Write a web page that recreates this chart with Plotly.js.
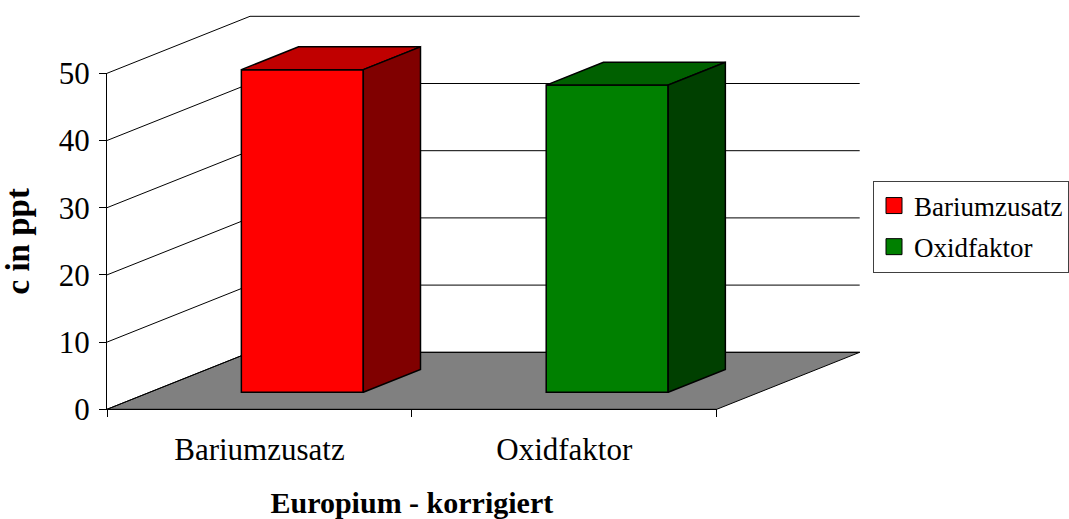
<!DOCTYPE html>
<html>
<head>
<meta charset="utf-8">
<script src="https://cdn.plot.ly/plotly-3.0.1.min.js"></script>
<style>
  html, body { margin: 0; padding: 0; background: #ffffff; }
  #chart { width: 1069px; height: 519px; }
</style>
</head>
<body>
<div id="chart"></div>
<script>
// --- data ---
const categories = ['Bariumzusatz', 'Oxidfaktor'];
const seriesNames = ['Bariumzusatz', 'Oxidfaktor'];
const values = [48.0, 45.7];
const yTicks = [0, 10, 20, 30, 40, 50];

// face colours per bar: front, top, side
const frontColors = ['#ff0000', '#008000'];
const topColors = ['#c00000', '#006000'];
const sideColors = ['#800000', '#004000'];

const FONT = 'Liberation Serif, Times New Roman, serif';
const W = 1069, H = 519;

// front plane of the 3d box, in pixels
const FRONT = { left: 107, right: 716.7, bottom: 409.3, top: 73.3 };
const DEPTH_PX = { x: 143, y: 57 };
const Y_MAX = 50;

const pxPerCat = (FRONT.right - FRONT.left) / categories.length;
const pxPerVal = (FRONT.bottom - FRONT.top) / Y_MAX;
const DX = DEPTH_PX.x / pxPerCat;
const DY = DEPTH_PX.y / pxPerVal;
const xRange = [-FRONT.left / pxPerCat, (W - FRONT.left) / pxPerCat];
const yRange = [-(H - FRONT.bottom) / pxPerVal, FRONT.bottom / pxPerVal];

// bar takes the middle 40% of its slot, in width and in depth
const BAR_X0 = 0.3, BAR_X1 = 0.7;
const BAR_D0 = 0.3, BAR_D1 = 0.7;

function proj(u, v, d) {
    return [u + d * DX, v + d * DY];
}

function polygon(points, color, axes) {
    return {
        x: points.map(p => p[0]).concat([points[0][0]]),
        y: points.map(p => p[1]).concat([points[0][1]]),
        type: 'scatter',
        mode: 'lines',
        fill: 'toself',
        fillcolor: color,
        line: { color: '#000000', width: 1.5 },
        hoverinfo: 'skip',
        showlegend: false,
        xaxis: axes[0],
        yaxis: axes[1]
    };
}

const n = categories.length;
const traces = [];

// floor
traces.push(Object.assign(polygon([proj(0, 0, 0), proj(n, 0, 0), proj(n, 0, 1), proj(0, 0, 1)], '#808080', ['x', 'y']),
    { line: { color: '#000000', width: 1 } }));

// back wall gridlines and left wall lines
const gx = [], gy = [], lx = [], ly = [];
yTicks.forEach(v => {
    const a = proj(0, v, 1), b = proj(n, v, 1), f = proj(0, v, 0);
    gx.push(a[0], b[0], null); gy.push(a[1], b[1], null);
    lx.push(f[0], a[0], null); ly.push(f[1], a[1], null);
});
traces.push({ x: gx, y: gy, type: 'scatter', mode: 'lines', line: { color: '#000000', width: 1 },
    hoverinfo: 'skip', showlegend: false });
traces.push({ x: lx, y: ly, type: 'scatter', mode: 'lines', line: { color: '#000000', width: 1 },
    hoverinfo: 'skip', showlegend: false });

// bars: front face as bar trace, top and side as polygons (overlay subplot so they sit above the floor)
values.forEach((v, i) => {
    const base = BAR_D0 * DY;
    traces.push({
        x: [i + (BAR_X0 + BAR_X1) / 2 + BAR_D0 * DX],
        y: [v],
        base: [base],
        width: [BAR_X1 - BAR_X0],
        type: 'bar',
        marker: { color: frontColors[i], line: { color: '#000000', width: 1.5 } },
        name: seriesNames[i],
        hoverinfo: 'skip',
        showlegend: false,
        xaxis: 'x3',
        yaxis: 'y3'
    });
    const dd = BAR_D1 - BAR_D0;
    const fl = proj(i + BAR_X0, v, BAR_D0), fr = proj(i + BAR_X1, v, BAR_D0);
    const frb = proj(i + BAR_X1, 0, BAR_D0);
    const top = [fl, fr, [fr[0] + dd * DX, fr[1] + dd * DY], [fl[0] + dd * DX, fl[1] + dd * DY]];
    const side = [frb, fr, [fr[0] + dd * DX, fr[1] + dd * DY], [frb[0] + dd * DX, frb[1] + dd * DY]];
    traces.push(polygon(top, topColors[i], ['x3', 'y3']));
    traces.push(polygon(side, sideColors[i], ['x3', 'y3']));
});

// legend keys on the front axes subplot
seriesNames.forEach((name, i) => {
    traces.push({
        x: [null], y: [null],
        type: 'scatter', mode: 'markers',
        marker: { symbol: 'square', size: 16, color: frontColors[i], line: { color: '#000000', width: 1 } },
        name: name,
        legendgroup: 'g' + i,
        xaxis: 'x2', yaxis: 'y2'
    });
});

const hidden = { visible: false, showgrid: false, zeroline: false, fixedrange: true };

const layout = {
    width: W,
    height: H,
    margin: { t: 0, b: 0, l: 0, r: 0, autoexpand: false },
    paper_bgcolor: '#ffffff',
    plot_bgcolor: 'rgba(0,0,0,0)',
    barmode: 'overlay',
    font: { family: FONT, color: '#000000', size: 30 },
    xaxis: Object.assign({ range: xRange, domain: [0, 1] }, hidden),
    yaxis: Object.assign({ range: yRange, domain: [0, 1] }, hidden),
    xaxis3: Object.assign({ range: xRange, overlaying: 'x', anchor: 'y3' }, hidden),
    yaxis3: Object.assign({ range: yRange, overlaying: 'y', anchor: 'x3' }, hidden),
    xaxis2: {
        domain: [FRONT.left / W, FRONT.right / W],
        anchor: 'y2',
        range: [0, n],
        tickmode: 'array',
        tickvals: categories.map((c, i) => i + 0.5),
        ticktext: categories,
        ticks: '',
        minor: { tickmode: 'array', tickvals: categories.map((c, i) => i).concat([n]), ticks: 'outside', ticklen: 7, tickcolor: '#000000', tickwidth: 1 },
        showline: true, linecolor: '#000000', linewidth: 1,
        showgrid: false, zeroline: false, fixedrange: true,
        tickfont: { family: FONT, size: 31, color: '#000000' },
        ticklabelstandoff: 12,
        title: { text: '<b>Europium - korrigiert</b>', font: { family: FONT, size: 30, color: '#000000' }, standoff: 31 }
    },
    yaxis2: {
        domain: [1 - FRONT.bottom / H, 1 - FRONT.top / H],
        anchor: 'x2',
        range: [0, Y_MAX],
        tickmode: 'array',
        tickvals: yTicks,
        ticks: 'outside', ticklen: 7, tickcolor: '#000000', tickwidth: 1,
        showline: true, linecolor: '#000000', linewidth: 1,
        showgrid: false, zeroline: false, fixedrange: true,
        tickfont: { family: FONT, size: 31, color: '#000000' },
        ticklabelstandoff: 3,
        title: { text: '<b>c in ppt</b>', font: { family: FONT, size: 33, color: '#000000' }, standoff: 21 }
    },
    showlegend: true,
    legend: {
        x: 1, xanchor: 'right',
        y: 1 - 180.5 / H, yanchor: 'top',
        bgcolor: '#ffffff',
        bordercolor: '#404040', borderwidth: 1,
        font: { family: FONT, size: 27, color: '#000000' },
        tracegroupgap: 3
    }
};

Plotly.newPlot('chart', traces, layout, { displayModeBar: false, staticPlot: true });
</script>
</body>
</html>
